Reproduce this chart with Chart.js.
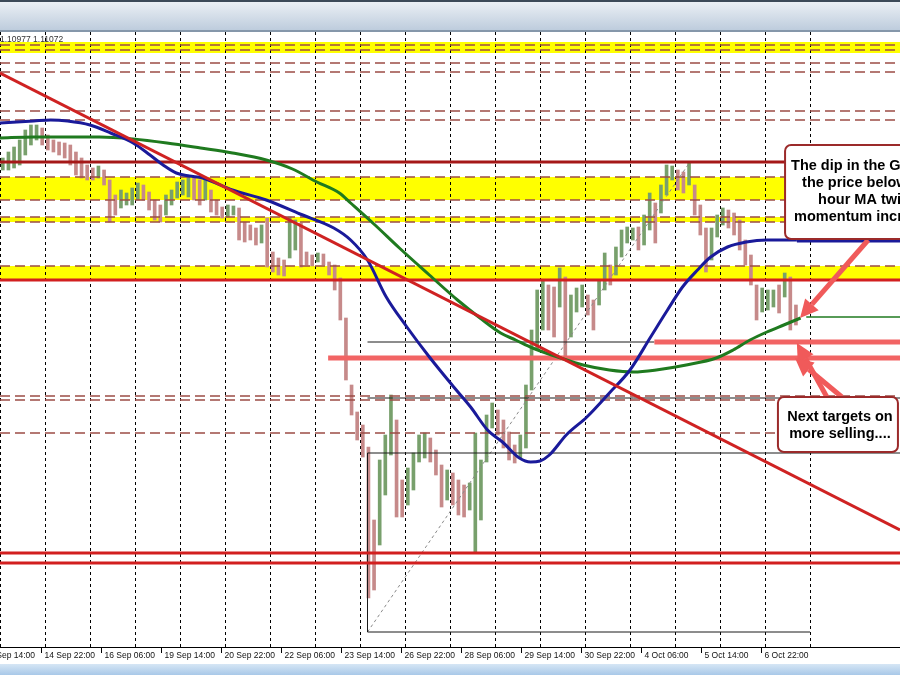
<!DOCTYPE html>
<html lang="en">
<head>
<meta charset="UTF-8">
<title>GBPUSD H1</title>
<script src="https://cdn.jsdelivr.net/npm/chart.js"></script>
<style>
  html, body { margin: 0; padding: 0; background: #fff; }
  #wrap { width: 900px; height: 675px; }
</style>
</head>
<body>
<div id="wrap"><canvas id="chart" width="900" height="675"></canvas></div>
<script>
// price bars, one per 3 hours from the left edge
const highs = [1.1260,1.1266,1.1271,1.1278,1.1288,1.1293,1.1293,1.1290,1.1283,1.1278,
  1.1276,1.1275,1.1273,1.1266,1.1260,1.1253,1.1250,1.1252,1.1248,1.1238,
  1.1223,1.1228,1.1225,1.1230,1.1235,1.1233,1.1226,1.1218,1.1213,1.1223,
  1.1228,1.1236,1.1238,1.1241,1.1240,1.1238,1.1240,1.1228,1.1218,1.1211,
  1.1213,1.1212,1.1210,1.1196,1.1193,1.1190,1.1193,1.1200,1.1166,1.1160,
  1.1158,1.1201,1.1198,1.1195,1.1166,1.1163,1.1165,1.1164,1.1156,1.1153,
  1.1140,1.1100,1.1033,1.1006,1.0993,1.0971,1.0898,1.0958,1.0983,1.1023,
  1.0998,1.0938,1.0950,1.0965,1.0983,1.0985,1.0980,1.0968,1.0953,1.0948,
  1.0945,1.0938,1.0933,1.0935,1.0985,1.0958,1.1003,1.1015,1.1008,1.0998,
  1.0986,1.0973,1.0983,1.1033,1.1088,1.1128,1.1138,1.1133,1.1131,1.1150,
  1.1141,1.1123,1.1130,1.1133,1.1123,1.1118,1.1138,1.1165,1.1153,1.1171,
  1.1188,1.1191,1.1190,1.1191,1.1203,1.1225,1.1215,1.1233,1.1253,1.1252,
  1.1248,1.1246,1.1256,1.1233,1.1213,1.1190,1.1190,1.1203,1.1210,1.1208,
  1.1205,1.1198,1.1178,1.1163,1.1133,1.1130,1.1128,1.1128,1.1133,1.1145,
  1.1141,1.1113];
const lows = [1.1248,1.1248,1.1250,1.1253,1.1263,1.1273,1.1278,1.1273,1.1268,1.1266,
  1.1263,1.1260,1.1253,1.1243,1.1240,1.1238,1.1238,1.1240,1.1233,1.1196,
  1.1203,1.1210,1.1213,1.1213,1.1218,1.1218,1.1208,1.1198,1.1196,1.1203,
  1.1213,1.1220,1.1223,1.1221,1.1218,1.1213,1.1218,1.1206,1.1203,1.1200,
  1.1201,1.1203,1.1178,1.1176,1.1178,1.1173,1.1175,1.1151,1.1146,1.1143,
  1.1142,1.1160,1.1168,1.1151,1.1153,1.1152,1.1156,1.1153,1.1143,1.1128,
  1.1098,1.1038,1.1003,1.0978,1.0961,1.0820,1.0828,1.0873,1.0923,1.0963,
  1.0901,1.0901,1.0913,1.0928,1.0956,1.0960,1.0956,1.0943,1.0911,1.0918,
  1.0913,1.0903,1.0901,1.0908,1.0865,1.0898,1.0956,1.0990,1.0983,1.0970,
  1.0958,1.0955,1.0960,1.0970,1.1028,1.1068,1.1088,1.1088,1.1081,1.1111,
  1.1061,1.1081,1.1106,1.1111,1.1103,1.1088,1.1113,1.1128,1.1133,1.1143,
  1.1161,1.1175,1.1178,1.1168,1.1173,1.1188,1.1175,1.1205,1.1223,1.1238,
  1.1228,1.1225,1.1233,1.1203,1.1183,1.1146,1.1158,1.1181,1.1193,1.1190,
  1.1183,1.1168,1.1153,1.1133,1.1098,1.1106,1.1108,1.1111,1.1105,1.1121,
  1.1088,1.1093];
const barHours = highs.map((_, i) => 1.5 + i * 3);

// moving averages (hour, price)
const blueHours = [0,18,27,36,48,59,71,80,87,94,101,108,124,142,160,178,187,196,206,217,
  229,242,251,260,268,277,283,288,293,302,313,325,336,347,356,364,372,379,388,398,409,425];
const bluePrices = [1.1295,1.1297,1.1298,1.1297,1.1293,1.1285,1.1275,1.1263,1.1253,1.1245,
  1.1242,1.1240,1.1228,1.1218,1.1204,1.1190,1.1178,1.1158,1.1121,1.1091,
  1.1061,1.1031,1.1011,1.0988,1.0976,1.0960,1.0956,1.0957,1.0963,1.0983,
  1.1001,1.1025,1.1048,1.1081,1.1108,1.1131,1.1148,1.1161,1.1171,1.1176,1.1178,1.1178];
const greenHours = [0,18,36,53,71,89,107,124,142,156,169,181,187,200,213,229,244,256,267,275,
  284,299,311,325,338,350,366,382,391,400,409,418,427];
const greenPrices = [1.1280,1.1281,1.1281,1.1281,1.1279,1.1275,1.1270,1.1265,1.1258,1.1249,
  1.1236,1.1225,1.1215,1.1193,1.1170,1.1143,1.1118,1.1100,1.1085,1.1078,
  1.1070,1.1060,1.1053,1.1048,1.1046,1.1048,1.1053,1.1060,1.1068,1.1078,1.1086,1.1093,1.1100];
const blueLevel = 1.1177;
const greenLevel = 1.1101;

// drawn levels
const trendLine = [[0, 1.1345], [480, 1.0888]];
const yellowBands = [[1.1376, 1.1365], [1.1241, 1.1218], [1.1201, 1.1196], [1.1152, 1.1139]];
const dashedLevels = [1.1373, 1.1368, 1.1355, 1.1346, 1.1307, 1.1298, 1.1241, 1.1218,
  1.1201, 1.1196, 1.1152, 1.1022, 1.1018, 1.0985];
const redLevels = [1.1256, 1.1138, 1.0865, 1.0855];
const targetLevels = [[175, 1.1060], [349, 1.1076]];
const fibStart = 196;
const fibLevels = [[1.1076, 349], [1.1020, 480], [1.0965, 480], [1.0786, 432]];
const fibDiagonal = [[196, 1.0786], [368, 1.1256]];

// time axis
const gridHours = [0,24,48,72,96,120,144,168,192,216,240,264,288,312,336,360,384,408,432];
const tickHours = [-10,22,54,86,118,150,182,214,246,278,310,342,374,406];
const tickLabels = ['13 Sep 14:00','14 Sep 22:00','16 Sep 06:00','19 Sep 14:00','20 Sep 22:00',
  '22 Sep 06:00','23 Sep 14:00','26 Sep 22:00','28 Sep 06:00','29 Sep 14:00','30 Sep 22:00',
  '4 Oct 06:00','5 Oct 14:00','6 Oct 22:00'];

// callouts
const note1 = ['The dip in the GBPUSD took', 'the price below the 100', 'hour MA twice. Selling', 'momentum increased'];
const note2 = ['Next targets on', 'more selling....'];
const arrows = [
  [[463, 1.1178], [426.7, 1.1100]],
  [[441, 1.1021], [425, 1.1075]],
  [[449, 1.1021], [424, 1.1060]]
];

const mids = highs.map((h, i) => (h + lows[i]) / 2);
const barColors = mids.map((m, i) => (i === 0 || m >= mids[i - 1]) ? '#78a06c' : '#c68a8a');

function seg(points, color, width, order, dash) {
  return {
    type: 'line',
    data: points.map(p => ({ x: p[0], y: p[1] })),
    borderColor: color,
    borderWidth: width,
    borderDash: dash || [],
    pointRadius: 0,
    fill: false,
    order: order
  };
}

const datasets = [];
datasets.push({
  type: 'bar',
  data: barHours.map((h, i) => ({ x: h, y: [lows[i], highs[i]] })),
  backgroundColor: barColors,
  borderWidth: 0,
  barThickness: 3,
  grouped: false,
  order: 80
});
dashedLevels.forEach(p => datasets.push(seg([[0, p], [480, p]], '#9c4c46', 1.3, 60, [10, 5])));
fibLevels.forEach(f => datasets.push(seg([[fibStart, f[0]], [f[1], f[0]]], '#1a1a1a', 1, 55)));
datasets.push(seg([[fibStart, 1.0965], [fibStart, 1.0786]], '#1a1a1a', 1, 55));
datasets.push(seg(fibDiagonal, '#8a8a8a', 1, 55, [3, 3]));
redLevels.forEach((p, i) => datasets.push(seg([[0, p], [480, p]], i === 0 ? '#a51818' : '#d21f1f', 3, 40)));
targetLevels.forEach(t => datasets.push(seg([[t[0], t[1]], [480, t[1]]], '#f26464', 5, 35)));
datasets.push({
  type: 'line',
  data: greenHours.map((h, i) => ({ x: h, y: greenPrices[i] })),
  borderColor: '#1f7a1f', borderWidth: 3, pointRadius: 0, fill: false,
  cubicInterpolationMode: 'monotone', order: 30
});
datasets.push(seg([[430, greenLevel], [480, greenLevel]], '#1f7a1f', 1.5, 30));
datasets.push({
  type: 'line',
  data: blueHours.map((h, i) => ({ x: h, y: bluePrices[i] })),
  borderColor: '#1a1a9a', borderWidth: 3, pointRadius: 0, fill: false,
  cubicInterpolationMode: 'monotone', order: 25
});
datasets.push(seg([[425, blueLevel], [480, blueLevel]], '#1a1a9a', 3, 25));
datasets.push(seg(trendLine, '#cf2222', 3, 20));

const backdrop = {
  id: 'backdrop',
  beforeDraw(chart) {
    const ctx = chart.ctx;
    ctx.save();
    ctx.fillStyle = '#ffffff';
    ctx.fillRect(0, 0, 900, 675);
    let g = ctx.createLinearGradient(0, 0, 0, 31);
    g.addColorStop(0, '#eef2f6');
    g.addColorStop(1, '#bccbdc');
    ctx.fillStyle = g;
    ctx.fillRect(0, 0, 900, 31);
    ctx.fillStyle = '#3c4a58';
    ctx.fillRect(0, 0, 900, 2);
    ctx.fillStyle = '#8597aa';
    ctx.fillRect(0, 30, 900, 2);
    g = ctx.createLinearGradient(0, 664, 0, 675);
    g.addColorStop(0, '#d6e6f5');
    g.addColorStop(1, '#a8c8e8');
    ctx.fillStyle = g;
    ctx.fillRect(0, 664, 900, 11);
    ctx.restore();
  },
  beforeDatasetsDraw(chart) {
    const ctx = chart.ctx, x = chart.scales.x, y = chart.scales.y, a = chart.chartArea;
    ctx.save();
    ctx.fillStyle = '#ffff00';
    yellowBands.forEach(b => {
      const t = y.getPixelForValue(b[0]), bt = y.getPixelForValue(b[1]);
      ctx.fillRect(a.left, t, a.right - a.left, bt - t);
    });
    ctx.strokeStyle = '#000';
    ctx.lineWidth = 1;
    ctx.setLineDash([3, 3]);
    gridHours.forEach(h => {
      const px = Math.round(x.getPixelForValue(h)) + 0.5;
      ctx.beginPath();
      ctx.moveTo(px, a.top);
      ctx.lineTo(px, a.bottom);
      ctx.stroke();
    });
    ctx.restore();
  },
  afterDatasetsDraw(chart) {
    const ctx = chart.ctx, x = chart.scales.x, y = chart.scales.y, a = chart.chartArea;
    ctx.save();
    // time axis
    ctx.strokeStyle = '#000';
    ctx.lineWidth = 1;
    ctx.beginPath();
    ctx.moveTo(0, a.bottom + 0.5);
    ctx.lineTo(900, a.bottom + 0.5);
    ctx.stroke();
    ctx.font = '8.5px "Liberation Sans", Arial, sans-serif';
    ctx.fillStyle = '#111';
    ctx.textBaseline = 'middle';
    ctx.textAlign = 'left';
    tickHours.forEach((h, i) => {
      const px = Math.round(x.getPixelForValue(h)) + 0.5;
      ctx.beginPath();
      ctx.moveTo(px, a.bottom);
      ctx.lineTo(px, a.bottom + 6);
      ctx.stroke();
      ctx.fillText(tickLabels[i], px + 3, a.bottom + 9);
    });
    ctx.fillStyle = '#333';
    ctx.fillText('1.10977 1.11072', 0, 40);

    // arrows
    ctx.strokeStyle = '#f05a5a';
    ctx.fillStyle = '#f05a5a';
    ctx.lineWidth = 5;
    arrows.forEach(ar => {
      const x1 = x.getPixelForValue(ar[0][0]), y1 = y.getPixelForValue(ar[0][1]);
      const x2 = x.getPixelForValue(ar[1][0]), y2 = y.getPixelForValue(ar[1][1]);
      const ang = Math.atan2(y2 - y1, x2 - x1), len = 18, hw = 9;
      const bx = x2 - len * Math.cos(ang), by = y2 - len * Math.sin(ang);
      ctx.beginPath();
      ctx.moveTo(x1, y1);
      ctx.lineTo(bx, by);
      ctx.stroke();
      ctx.beginPath();
      ctx.moveTo(x2, y2);
      ctx.lineTo(bx + hw * Math.sin(ang), by - hw * Math.cos(ang));
      ctx.lineTo(bx - hw * Math.sin(ang), by + hw * Math.cos(ang));
      ctx.closePath();
      ctx.fill();
    });

    // callout boxes
    const box = (h1, p1, h2, p2) => {
      const l = x.getPixelForValue(h1), t = y.getPixelForValue(p1);
      const r = x.getPixelForValue(h2), b = y.getPixelForValue(p2);
      ctx.fillStyle = '#fff';
      ctx.strokeStyle = '#9b2a2a';
      ctx.lineWidth = 2;
      ctx.beginPath();
      ctx.roundRect(l, t, r - l, b - t, 6);
      ctx.fill();
      ctx.stroke();
      return { l, t, r, b };
    };
    ctx.font = 'bold 14.5px "Liberation Sans", Arial, sans-serif';
    const b1 = box(418.7, 1.1273, 500, 1.1179);
    ctx.fillStyle = '#000';
    const offs = [6, 17, 33, 9];
    note1.forEach((s, i) => ctx.fillText(s, b1.l + offs[i], b1.t + 21 + i * 17));
    const b2 = box(414.9, 1.1021, 478.9, 1.0966);
    ctx.fillStyle = '#000';
    ctx.textAlign = 'center';
    note2.forEach((s, i) => ctx.fillText(s, (b2.l + b2.r) / 2 + 2, b2.t + 20 + i * 17));
    ctx.restore();
  }
};

new Chart(document.getElementById('chart'), {
  type: 'bar',
  data: { datasets: datasets },
  options: {
    responsive: false,
    animation: false,
    layout: { padding: { top: 32, bottom: 28, left: 0, right: 0 } },
    plugins: { legend: { display: false }, tooltip: { enabled: false } },
    scales: {
      x: { type: 'linear', min: 0, max: 480, offset: false, display: false },
      y: { type: 'linear', min: 1.0771, max: 1.1386, display: false }
    }
  },
  plugins: [backdrop]
});
</script>
</body>
</html>
